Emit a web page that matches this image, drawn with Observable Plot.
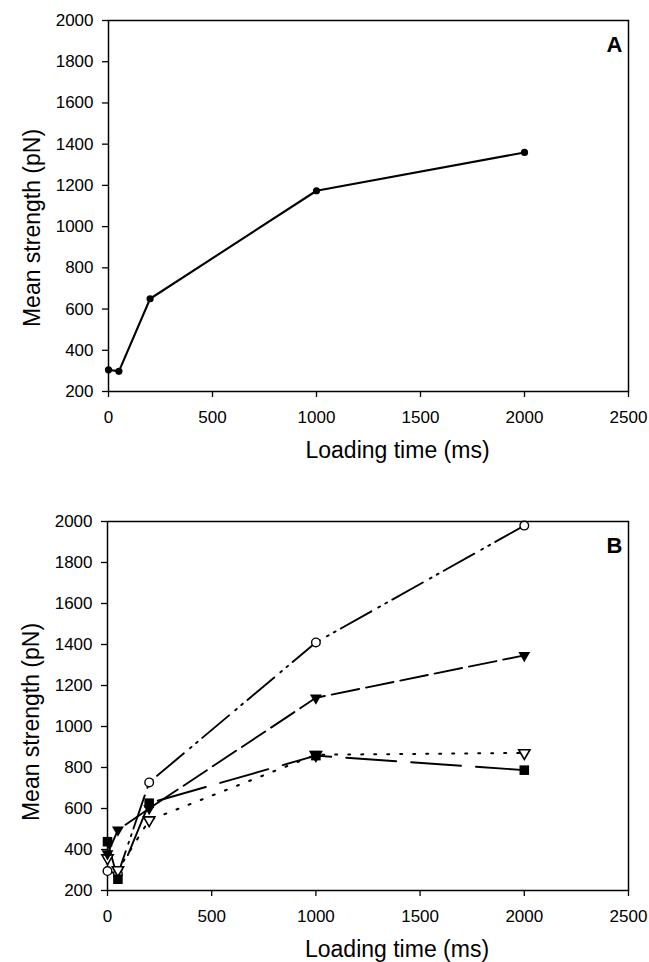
<!DOCTYPE html>
<html>
<head>
<meta charset="utf-8">
<script src="https://cdn.jsdelivr.net/npm/d3@7"></script>
<script src="https://cdn.jsdelivr.net/npm/@observablehq/plot@0.6"></script>
<style>
  html, body { margin: 0; padding: 0; background: #fff; }
  #chart svg { display: block; }
</style>
</head>
<body>
<div id="chart"></div>
<script>
// ---- data ----
const loadingTime = [0, 50, 200, 1000, 2000];
const strengthA = [305, 298, 650, 1174, 1360];
const circleB = [295, 280, 727, 1410, 1980];
const filledTriangleB = [380, 495, 600, 1140, 1347];
const openTriangleB = [358, 300, 543, 862, 871];
const squareB = [438, 255, 626, 858, 787];
const xTicks = [0, 500, 1000, 1500, 2000, 2500];
const yTicks = [200, 400, 600, 800, 1000, 1200, 1400, 1600, 1800, 2000];
const xTitle = "Loading time (ms)";
const yTitle = "Mean strength (pN)";
const panelLabels = ["A", "B"];

const rows = (ys) => loadingTime.map((t, i) => ({t, v: ys[i]}));

const triangleDown = {
  draw(context, size) {
    const y = -Math.sqrt(size / (Math.sqrt(3) * 3));
    context.moveTo(0, -y * 2);
    context.lineTo(-Math.sqrt(3) * y, y);
    context.lineTo(Math.sqrt(3) * y, y);
    context.closePath();
  }
};

const font = "'Liberation Sans', Arial, sans-serif";

function commonMarks(label, yDy) {
  return [
    Plot.frame({stroke: "black", strokeWidth: 1.5}),
    Plot.axisX({ticks: xTicks, tickSize: 6, tickPadding: 13, fontSize: 17, label: null, tickFormat: d => String(d), strokeWidth: 1.3}),
    Plot.axisY({ticks: yTicks, tickSize: 6, tickPadding: 9, fontSize: 17, label: null, tickFormat: d => String(d), strokeWidth: 1.3}),
    Plot.text([xTitle], {frameAnchor: "bottom", text: d => d, dx: 29, dy: 50, textAnchor: "middle", lineAnchor: "top", fontSize: 23, fill: "black"}),
    Plot.text([yTitle], {frameAnchor: "left", text: d => d, rotate: -90, dx: -76, dy: yDy, textAnchor: "middle", lineAnchor: "middle", fontSize: 23, fill: "black"}),
    Plot.text([label], {frameAnchor: "top-right", text: d => d, dx: -6, dy: 24, textAnchor: "end", lineAnchor: "middle", fontSize: 22, fontWeight: "bold", fill: "black"})
  ];
}

const plotA = Plot.plot({
  width: 649, height: 480,
  marginLeft: 108, marginRight: 21, marginTop: 20, marginBottom: 89,
  style: {fontFamily: font, color: "black", background: "white"},
  x: {domain: [0, 2500]},
  y: {domain: [200, 2000]},
  marks: [
    ...commonMarks(panelLabels[0], 22),
    Plot.line(rows(strengthA), {x: "t", y: "v", stroke: "black", strokeWidth: 2.1}),
    Plot.dot(rows(strengthA), {x: "t", y: "v", r: 3.6, fill: "black", symbol: "circle"})
  ]
});

const plotB = Plot.plot({
  width: 649, height: 482,
  marginLeft: 107, marginRight: 21, marginTop: 41, marginBottom: 72,
  style: {fontFamily: font, color: "black", background: "white"},
  x: {domain: [0, 2500]},
  y: {domain: [200, 2000]},
  marks: [
    ...commonMarks(panelLabels[1], 16),
    Plot.line(rows(squareB), {x: "t", y: "v", stroke: "black", strokeWidth: 1.9, strokeDasharray: "50,15"}),
    Plot.line(rows(openTriangleB), {x: "t", y: "v", stroke: "black", strokeWidth: 2, strokeDasharray: "2,11"}),
    Plot.line(rows(filledTriangleB), {x: "t", y: "v", stroke: "black", strokeWidth: 1.9, strokeDasharray: "28,7"}),
    Plot.line(rows(circleB), {x: "t", y: "v", stroke: "black", strokeWidth: 1.9, strokeDasharray: "35,8,2,6,2,6"}),
    Plot.dot(rows(circleB), {x: "t", y: "v", r: 4.3, fill: "white", stroke: "black", strokeWidth: 1.4, symbol: "circle"}),
    Plot.dot(rows(openTriangleB), {x: "t", y: "v", r: 4.2, fill: "white", stroke: "black", strokeWidth: 1.6, symbol: triangleDown}),
    Plot.dot(rows(filledTriangleB), {x: "t", y: "v", r: 4.4, fill: "black", stroke: "none", symbol: triangleDown}),
    Plot.dot(rows(squareB), {x: "t", y: "v", r: 5.4, fill: "black", stroke: "none", symbol: "square"})
  ]
});

const chart = document.getElementById("chart");
chart.appendChild(plotA);
chart.appendChild(plotB);
</script>
</body>
</html>
